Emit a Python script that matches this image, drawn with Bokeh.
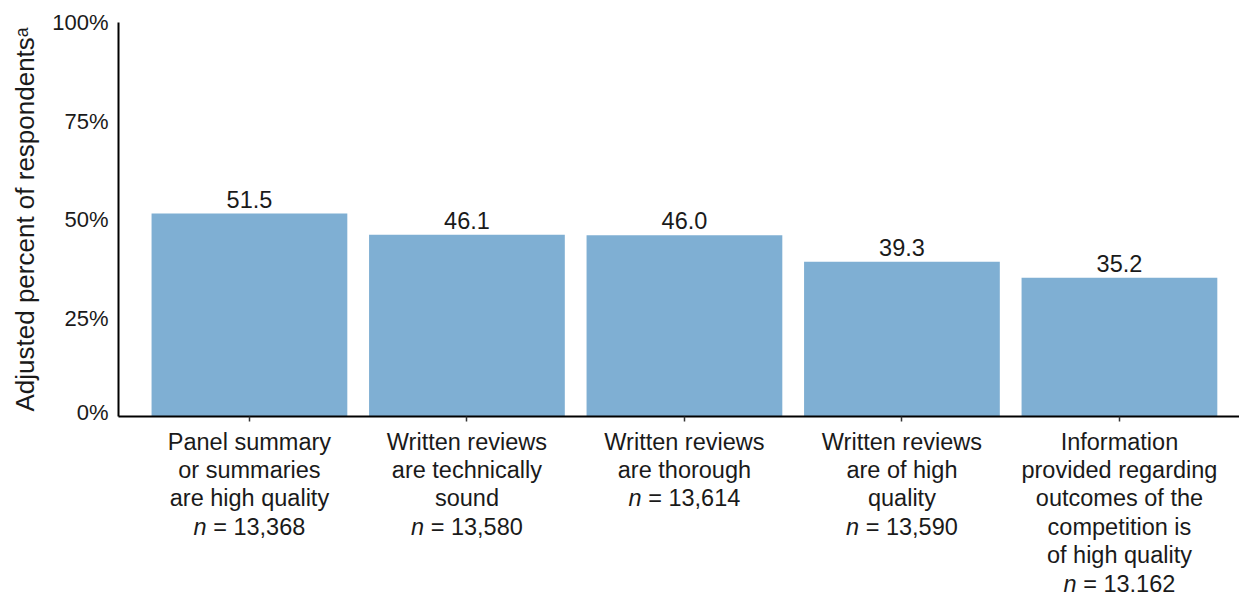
from bokeh.plotting import figure
from bokeh.layouts import column
from bokeh.models import Range1d, FixedTicker, PrintfTickFormatter, Label
from bokeh.embed import file_html
from bokeh.resources import INLINE

values = [51.5, 46.1, 46.0, 39.3, 35.2]
value_labels = ["51.5", "46.1", "46.0", "39.3", "35.2"]
cat_lines = [
    ["Panel summary", "or summaries", "are high quality"],
    ["Written reviews", "are technically", "sound"],
    ["Written reviews", "are thorough"],
    ["Written reviews", "are of high", "quality"],
    ["Information", "provided regarding", "outcomes of the", "competition is", "of high quality"],
]
n_values = ["13,368", "13,580", "13,614", "13,590", "13,162"]
y_ticks = [0, 25, 50, 75, 100]

FONT = "Liberation Sans"
FS = 23.5
TXT = "#1a1a1a"
W = 1239
LEFT = 118
TOP = 22
FRAME_H = 394
BOT1 = 8
PX_PER_UNIT = FRAME_H / 100.0

xs = list(range(len(values)))
xr = Range1d(-0.602, 4.552)

p = figure(width=W, height=TOP + FRAME_H + BOT1, output_backend="svg", toolbar_location=None,
           x_range=xr, y_range=Range1d(0, 100),
           min_border_left=LEFT, min_border_right=0, min_border_top=TOP, min_border_bottom=BOT1)
p.outline_line_color = None
p.xgrid.visible = False
p.ygrid.visible = False

p.vbar(x=xs, top=values, width=0.9, fill_color="#7FAFD3", line_color=None)

# y axis
p.yaxis.ticker = FixedTicker(ticks=y_ticks)
p.yaxis.formatter = PrintfTickFormatter(format="%d%%")
p.yaxis.major_tick_line_color = None
p.yaxis.minor_tick_line_color = None
p.yaxis.major_tick_out = 0
p.yaxis.major_tick_in = 0
p.yaxis.major_label_standoff = 10
p.yaxis.major_label_text_font = FONT
p.yaxis.major_label_text_font_size = "22px"
p.yaxis.major_label_text_color = TXT
p.yaxis.axis_line_color = "black"
p.yaxis.axis_line_width = 2
p.yaxis.axis_label = "Adjusted percent of respondents\u1d43"
p.yaxis.axis_label_text_font = FONT
p.yaxis.axis_label_text_font_size = "26px"
p.yaxis.axis_label_text_font_style = "normal"
p.yaxis.axis_label_text_color = TXT
p.yaxis.axis_label_standoff = 9

# x axis
p.xaxis.ticker = FixedTicker(ticks=xs)
p.xaxis.major_label_overrides = {i: "" for i in xs}
p.xaxis.major_label_text_font_size = "1px"
p.xaxis.major_label_standoff = 0
p.xaxis.minor_tick_line_color = None
p.xaxis.major_tick_in = 0
p.xaxis.major_tick_out = 5
p.xaxis.major_tick_line_width = 1.5
p.xaxis.major_tick_line_color = "#333333"
p.xaxis.axis_line_color = "black"
p.xaxis.axis_line_width = 2

# value labels
for i, (v, t) in enumerate(zip(values, value_labels)):
    p.add_layout(Label(x=i, y=v + 6 / PX_PER_UNIT, text=t, text_align="center",
                       text_baseline="bottom", text_font=FONT, text_font_size=f"{FS}px",
                       text_color=TXT))

# category labels in a second figure directly below
H2 = 592 - (TOP + FRAME_H + BOT1)
q = figure(width=W, height=H2, output_backend="svg", toolbar_location=None,
           x_range=xr, y_range=Range1d(H2, 0),
           min_border_left=LEFT, min_border_right=0, min_border_top=0, min_border_bottom=0)
q.axis.visible = False
q.grid.visible = False
q.outline_line_color = None

first = 17.0
step = 28.4
em = FS
n_w = 0.556 * em
sp_w = 0.278 * em
rest_w = 3.92 * em
total = n_w + sp_w + rest_w

lx, ly, lt = [], [], []
nx, ny = [], []
rx, ry, rt = [], [], []
for i, lines in enumerate(cat_lines):
    for j, line in enumerate(lines):
        lx.append(i)
        ly.append(first + step * j)
        lt.append(line)
    j = len(lines)
    nx.append(i)
    ny.append(first + step * j)
    rx.append(i)
    ry.append(first + step * j)
    rt.append("= " + n_values[i])

q.text(x=lx, y=ly, text=lt, text_align="center", text_baseline="middle",
       text_font={"value": FONT}, text_font_size={"value": f"{FS}px"}, text_color=TXT)
q.text(x=nx, y=ny, text=["n"] * len(nx), x_offset=-total / 2, text_align="left",
       text_baseline="middle", text_font={"value": FONT}, text_font_size={"value": f"{FS}px"},
       text_font_style="italic", text_color=TXT)
q.text(x=rx, y=ry, text=rt, x_offset=-total / 2 + n_w + sp_w, text_align="left",
       text_baseline="middle", text_font={"value": FONT}, text_font_size={"value": f"{FS}px"},
       text_color=TXT)

layout = column(p, q, spacing=0)
open("out.html", "w").write(file_html(layout, INLINE))
